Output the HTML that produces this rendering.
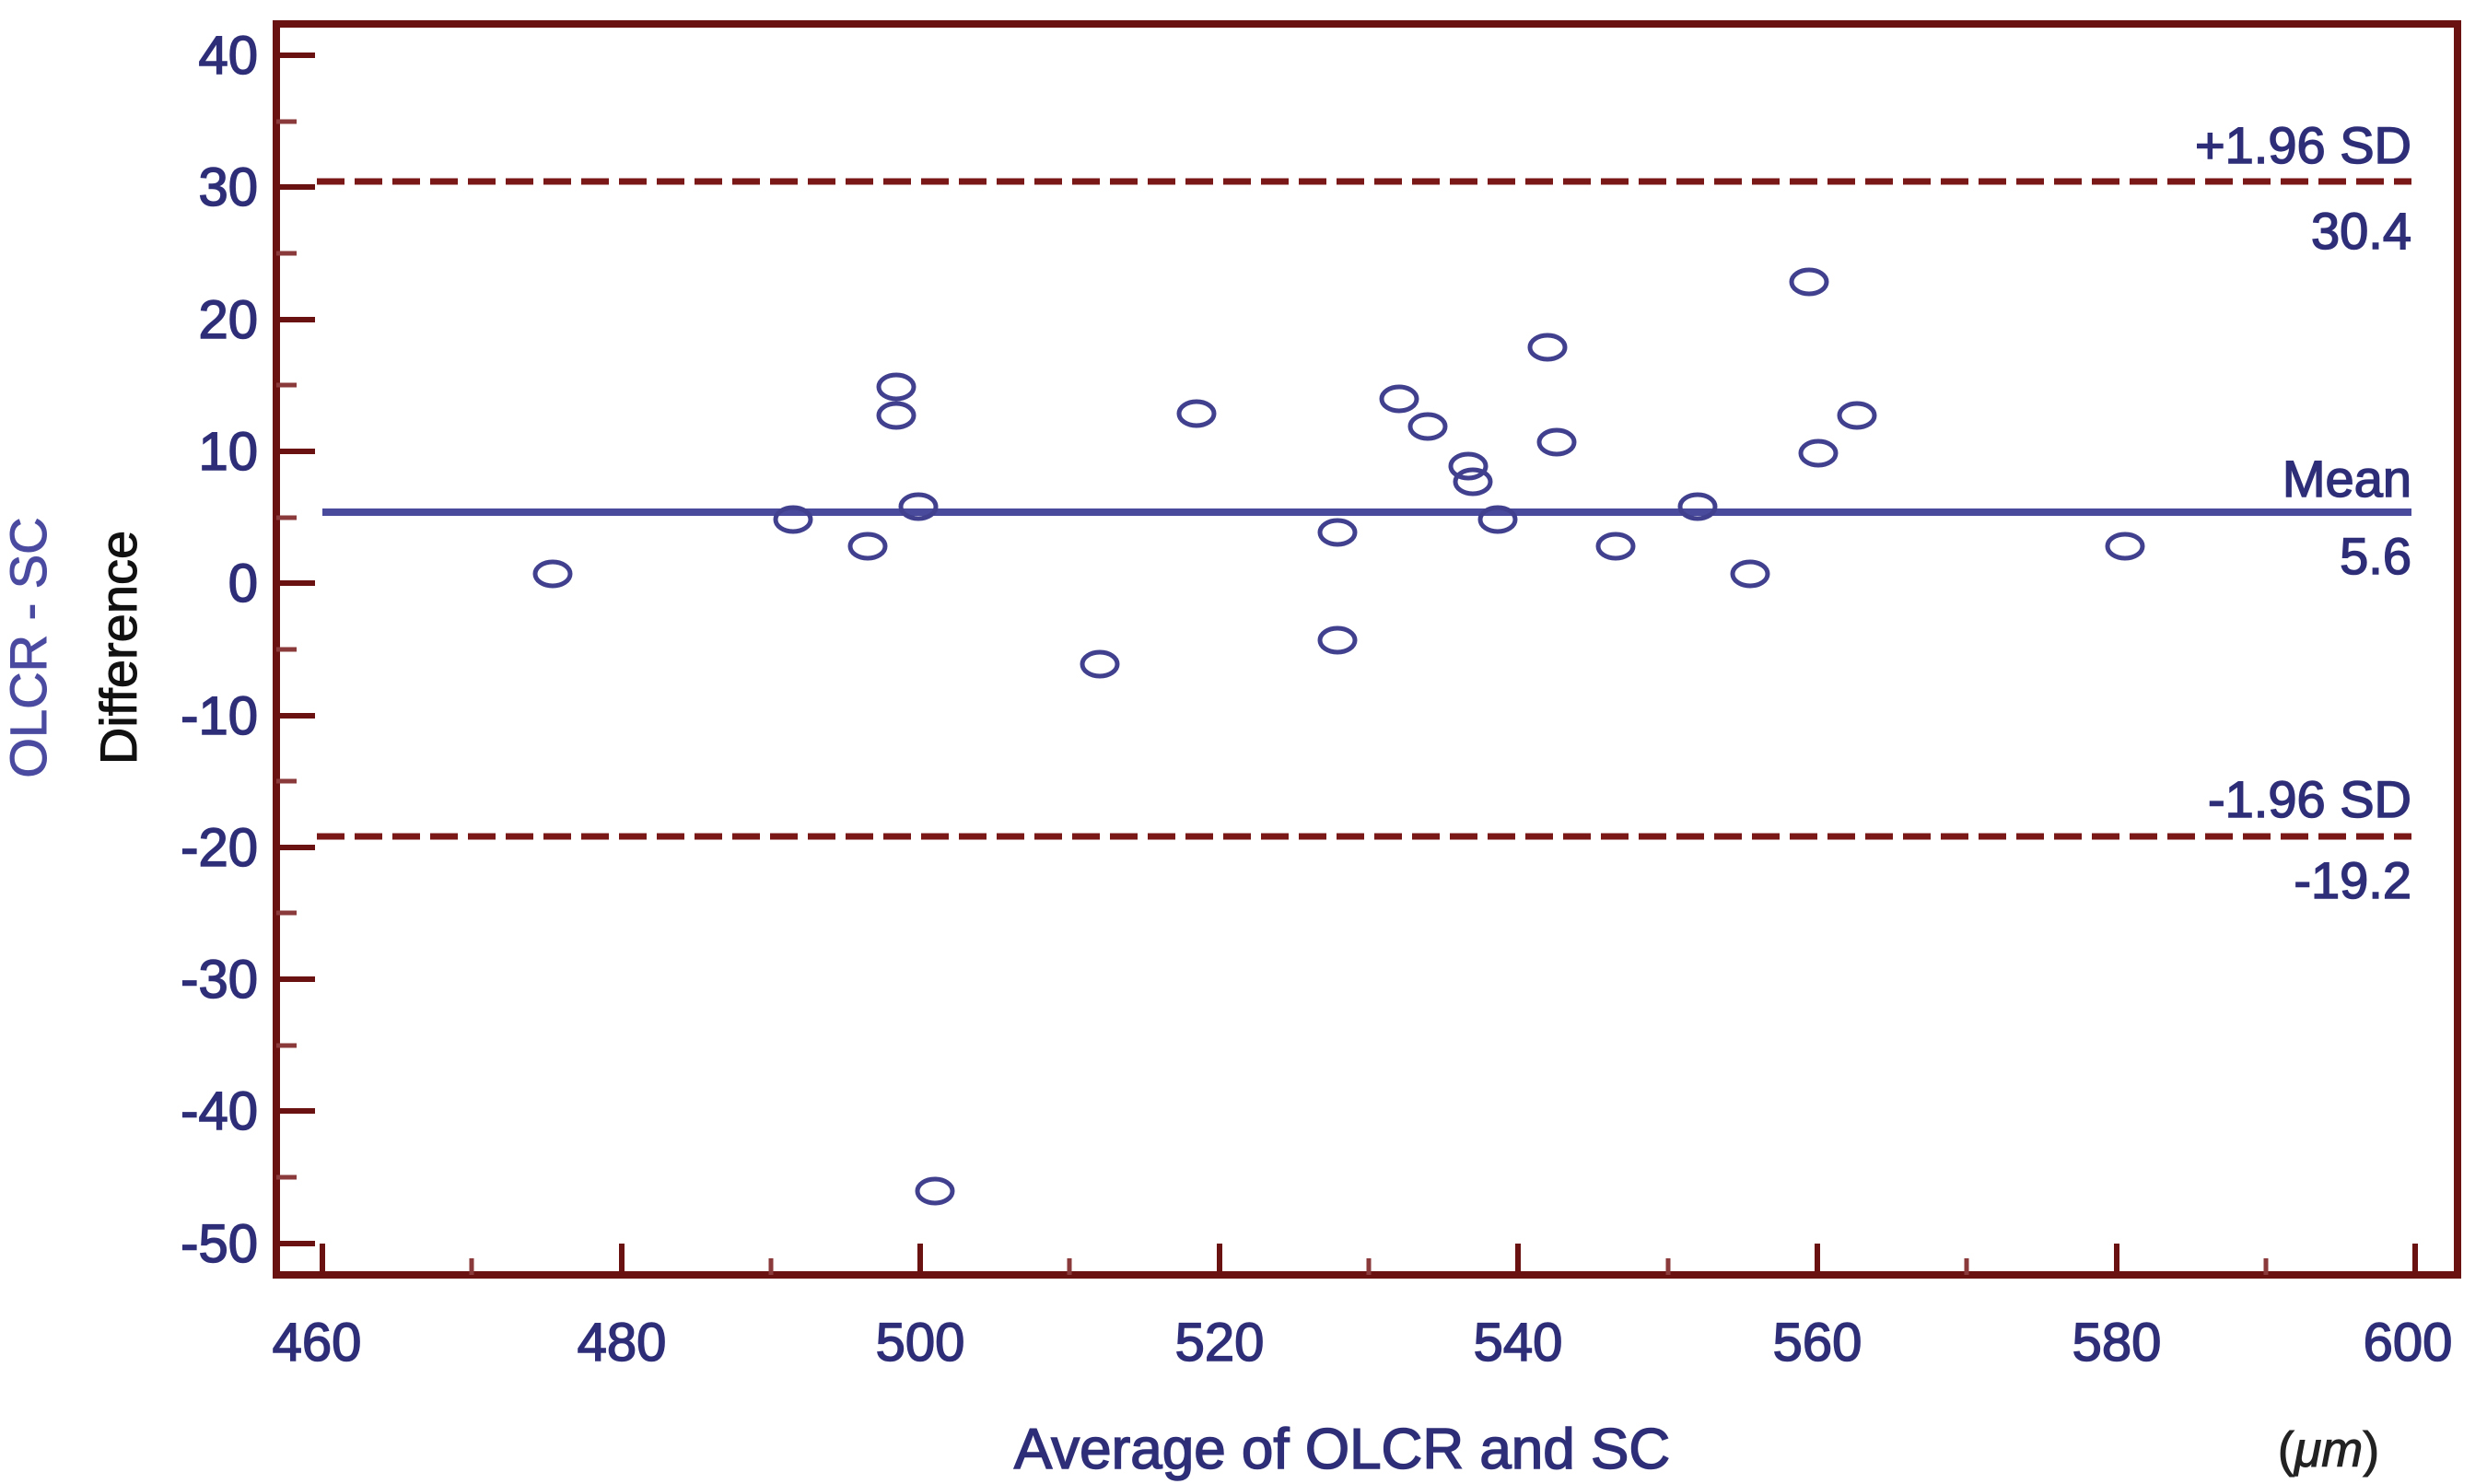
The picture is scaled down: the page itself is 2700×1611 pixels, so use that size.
<!DOCTYPE html>
<html><head><meta charset="utf-8"><style>
html,body{margin:0;padding:0;background:#fff;}
svg{display:block;}
text{font-family:"Liberation Sans",sans-serif;}
</style></head><body>
<svg width="2700" height="1611" viewBox="0 0 2700 1611" xmlns="http://www.w3.org/2000/svg">
<rect x="0" y="0" width="2700" height="1611" fill="#fff"/>
<rect x="300" y="26" width="2368" height="1358" fill="none" stroke="#6a1212" stroke-width="8"/>
<g stroke="#6a1212" stroke-width="6">
<line x1="300" y1="60" x2="342" y2="60"/><line x1="300" y1="203" x2="342" y2="203"/><line x1="300" y1="347" x2="342" y2="347"/><line x1="300" y1="490" x2="342" y2="490"/><line x1="300" y1="633" x2="342" y2="633"/><line x1="300" y1="777" x2="342" y2="777"/><line x1="300" y1="920" x2="342" y2="920"/><line x1="300" y1="1063" x2="342" y2="1063"/><line x1="300" y1="1206" x2="342" y2="1206"/><line x1="300" y1="1350" x2="342" y2="1350"/>
</g>
<g stroke="#8a3a3a" stroke-width="5">
<line x1="300" y1="132" x2="322" y2="132"/><line x1="300" y1="275" x2="322" y2="275"/><line x1="300" y1="418" x2="322" y2="418"/><line x1="300" y1="562" x2="322" y2="562"/><line x1="300" y1="705" x2="322" y2="705"/><line x1="300" y1="848" x2="322" y2="848"/><line x1="300" y1="991" x2="322" y2="991"/><line x1="300" y1="1135" x2="322" y2="1135"/><line x1="300" y1="1278" x2="322" y2="1278"/>
</g>
<g stroke="#6a1212" stroke-width="6">
<line x1="350" y1="1384" x2="350" y2="1350"/><line x1="675" y1="1384" x2="675" y2="1350"/><line x1="999" y1="1384" x2="999" y2="1350"/><line x1="1324" y1="1384" x2="1324" y2="1350"/><line x1="1648" y1="1384" x2="1648" y2="1350"/><line x1="1973" y1="1384" x2="1973" y2="1350"/><line x1="2298" y1="1384" x2="2298" y2="1350"/><line x1="2622" y1="1384" x2="2622" y2="1350"/>
</g>
<g stroke="#8a3a3a" stroke-width="5">
<line x1="512" y1="1384" x2="512" y2="1366"/><line x1="837" y1="1384" x2="837" y2="1366"/><line x1="1161" y1="1384" x2="1161" y2="1366"/><line x1="1486" y1="1384" x2="1486" y2="1366"/><line x1="1811" y1="1384" x2="1811" y2="1366"/><line x1="2135" y1="1384" x2="2135" y2="1366"/><line x1="2460" y1="1384" x2="2460" y2="1366"/>
</g>
<line x1="344" y1="197" x2="2618" y2="197" stroke="#7a1818" stroke-width="7" stroke-dasharray="30,11"/>
<line x1="344" y1="908" x2="2618" y2="908" stroke="#7a1818" stroke-width="7" stroke-dasharray="30,11"/>
<line x1="350" y1="556" x2="2618" y2="556" stroke="#4a4a9c" stroke-width="8"/>
<g fill="#2e2e78" stroke="#2e2e78" stroke-width="1.5" font-size="56" text-anchor="end">
<text x="2618" y="177">+1.96 SD</text>
<text x="2618" y="270">30.4</text>
<text x="2618" y="539">Mean</text>
<text x="2618" y="623">5.6</text>
<text x="2618" y="887">-1.96 SD</text>
<text x="2618" y="975">-19.2</text>
</g>
<g fill="#2e2e78" stroke="#2e2e78" stroke-width="1.5" font-size="58" text-anchor="end">
<text x="280" y="80">40</text><text x="280" y="223">30</text><text x="280" y="367">20</text><text x="280" y="510">10</text><text x="280" y="653">0</text><text x="280" y="797">-10</text><text x="280" y="940">-20</text><text x="280" y="1083">-30</text><text x="280" y="1226">-40</text><text x="280" y="1370">-50</text>
</g>
<g fill="#2e2e78" stroke="#2e2e78" stroke-width="1.5" font-size="58" text-anchor="middle">
<text x="344" y="1477">460</text><text x="675" y="1477">480</text><text x="999" y="1477">500</text><text x="1324" y="1477">520</text><text x="1648" y="1477">540</text><text x="1973" y="1477">560</text><text x="2298" y="1477">580</text><text x="2614" y="1477">600</text>
</g>
<text x="1457" y="1594" fill="#2e2e78" stroke="#2e2e78" stroke-width="1.5" font-size="62" text-anchor="middle">Average of OLCR and SC</text>
<text x="2528" y="1592" fill="#222" stroke="#222" stroke-width="1" font-size="54" text-anchor="middle">(<tspan font-style="italic">μm</tspan>)</text>
<text transform="translate(50,703) rotate(-90)" fill="#4a4aa0" stroke="#4a4aa0" stroke-width="1" font-size="56" text-anchor="middle">OLCR - SC</text>
<text transform="translate(148,703) rotate(-90)" fill="#111" stroke="#111" stroke-width="1" font-size="56" text-anchor="middle">Difference</text>
<g fill="none" stroke="#40408e" stroke-width="5">
<ellipse cx="600" cy="623" rx="19" ry="13"/>
<ellipse cx="861" cy="564" rx="19" ry="13"/>
<ellipse cx="942" cy="593" rx="19" ry="13"/>
<ellipse cx="973" cy="420" rx="19" ry="13"/>
<ellipse cx="973" cy="451" rx="19" ry="13"/>
<ellipse cx="997" cy="550" rx="19" ry="13"/>
<ellipse cx="1015" cy="1293" rx="19" ry="13"/>
<ellipse cx="1194" cy="721" rx="19" ry="13"/>
<ellipse cx="1299" cy="449" rx="19" ry="13"/>
<ellipse cx="1452" cy="578" rx="19" ry="13"/>
<ellipse cx="1452" cy="695" rx="19" ry="13"/>
<ellipse cx="1519" cy="433" rx="19" ry="13"/>
<ellipse cx="1550" cy="463" rx="19" ry="13"/>
<ellipse cx="1594" cy="506" rx="19" ry="13"/>
<ellipse cx="1599" cy="523" rx="19" ry="13"/>
<ellipse cx="1626" cy="564" rx="19" ry="13"/>
<ellipse cx="1680" cy="377" rx="19" ry="13"/>
<ellipse cx="1690" cy="480" rx="19" ry="13"/>
<ellipse cx="1754" cy="593" rx="19" ry="13"/>
<ellipse cx="1843" cy="550" rx="19" ry="13"/>
<ellipse cx="1900" cy="623" rx="19" ry="13"/>
<ellipse cx="1964" cy="306" rx="19" ry="13"/>
<ellipse cx="1974" cy="492" rx="19" ry="13"/>
<ellipse cx="2016" cy="451" rx="19" ry="13"/>
<ellipse cx="2307" cy="593" rx="19" ry="13"/>
</g>
</svg>
</body></html>
